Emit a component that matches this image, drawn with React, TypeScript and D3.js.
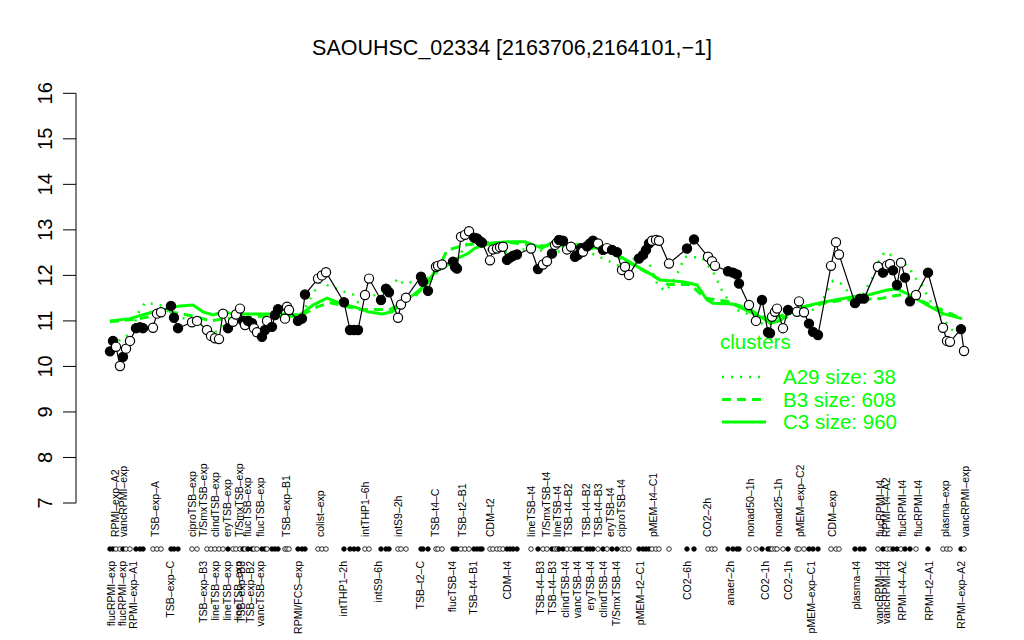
import React from "react";
import * as d3 from "d3";

// sample position along the x axis, expression value, filled (1) / open (0)
const samplePos = [110,113,116,120,123,126,130,136,140,143,153,157,161,171,174,178,192,197,207,211,215,219,223,228,233,236,240,243,245,248,252,254,257,262,265,267,272,275,278,285,287,289,298,302,305,318,322,326,
344,350,354,358,365,369,381,386,389,398,401,406,421,423,428,436,438,442,453,455,457,461,465,469,474,477,480,482,490,493,497,500,503,507,510,513,517,531,538,543,547,552,
555,557,559,563,567,571,575,578,581,583,587,590,593,598,603,607,612,617,622,625,629,639,643,646,649,652,656,659,669,687,694,708,712,715,728,733,737,739,749,756,762,768,770,772,775,777,783,788,797,799,804,809,813,818,831,836,839,855,860,864,878,883,887,890,893,897,901,905,910,916,928,943,947,950,961,964];
const sampleValue = [10.33,10.56,10.43,10.01,10.21,10.39,10.56,10.84,10.86,10.84,10.85,11.16,11.19,11.33,11.07,10.84,10.97,11.0,10.8,10.67,10.62,10.6,11.16,10.84,10.98,11.14,11.27,11.0,10.91,11.0,10.95,10.84,10.75,10.65,10.8,11.0,10.87,11.13,11.26,11.05,11.31,11.24,11.0,11.05,11.58,11.93,12.0,12.07,
11.41,10.8,10.8,10.8,11.57,11.93,11.46,11.71,11.63,11.07,11.36,11.51,11.97,11.86,11.66,12.19,12.21,12.24,12.30,12.19,12.15,12.85,12.89,12.97,12.83,12.81,12.75,12.72,12.33,12.57,12.59,12.62,12.63,12.34,12.39,12.43,12.46,12.59,12.14,12.24,12.31,12.48,
12.67,12.72,12.78,12.76,12.57,12.63,12.41,12.45,12.6,12.52,12.64,12.7,12.76,12.7,12.56,12.6,12.56,12.51,12.12,12.19,12.01,12.37,12.45,12.56,12.7,12.76,12.78,12.76,12.26,12.59,12.79,12.41,12.31,12.21,12.09,12.06,12.02,11.82,11.35,11.0,11.46,10.75,10.73,11.09,11.2,11.27,10.84,11.24,11.2,11.43,11.19,10.94,10.76,10.69,12.21,12.73,12.46,11.39,11.49,11.49,12.19,12.06,12.22,12.25,12.11,11.79,12.28,11.95,11.43,11.57,12.06,10.85,10.56,10.54,10.82,10.34];
const sampleFilled = [1,1,0,0,1,0,0,1,1,1,0,0,0,1,1,1,0,0,0,0,0,0,0,1,0,0,0,1,0,1,1,0,0,1,1,0,1,1,1,0,0,0,1,1,1,0,0,0,
1,1,1,1,0,0,1,1,1,0,0,0,1,1,1,0,0,0,1,1,1,0,0,0,1,1,1,1,0,0,0,0,0,1,1,1,1,0,1,0,0,1,
0,0,1,1,0,0,1,1,1,0,1,1,1,0,1,0,1,1,0,0,0,1,1,1,1,0,0,0,0,1,1,0,0,0,1,1,1,1,0,0,1,1,1,0,0,0,0,1,0,0,0,1,1,1,0,0,0,1,1,1,0,1,0,0,1,1,0,1,1,0,1,0,0,0,1,0];

// cluster profiles: [position, value]
const clusterA29: [number, number][] = [[110,10.5],[123,10.6],[131,10.75],[139,11.2],[145,11.4],[160,11.35],[175,11.1],[195,11.0],[215,10.75],[230,11.0],[250,10.95],[265,10.8],[280,11.15],[300,11.1],[320,11.85],[343,11.65],[353,11.58],[358,11.41],[375,11.57],[392,11.75],[398,11.94],[403,11.82],[425,11.9],[440,12.2],[455,12.3],[470,12.8],[490,12.55],[510,12.5],[530,12.6],[550,12.5],[580,12.6],[620,12.2],[645,12.5],[658,11.77],[666,11.65],[676,11.97],[685,12.41],[702,12.39],[714,12.04],[723,11.62],[735,11.26],[747,11.16],[765,10.9],[790,11.1],[818,11.28],[828,11.68],[833,11.88],[841,11.82],[858,11.4],[872,11.93],[880,12.37],[885,12.52],[894,12.41],[909,12.19],[914,11.97],[922,11.79],[927,11.57],[932,11.38],[950,10.85],[957,10.69]];
const clusterB3: [number, number][] = [[110,10.98],[140,11.05],[170,11.2],[195,11.1],[210,11.0],[225,11.05],[260,11.1],[300,11.1],[316,11.3],[330,11.4],[360,11.25],[390,11.25],[415,11.55],[435,12.0],[447,12.55],[462,12.65],[480,12.72],[510,12.72],[540,12.65],[580,12.65],[610,12.5],[640,12.15],[668,11.8],[690,11.8],[705,11.5],[727,11.43],[750,11.25],[770,11.0],[800,11.3],[840,11.45],[880,11.49],[902,11.58],[920,11.45],[962,11.05]];
const clusterC3: [number, number][] = [[110,11.0],[130,11.05],[150,11.18],[167,11.27],[180,11.33],[193,11.35],[203,11.2],[213,11.13],[223,11.2],[233,11.16],[260,11.15],[280,11.15],[300,11.13],[313,11.35],[327,11.5],[340,11.39],[358,11.28],[368,11.2],[382,11.15],[392,11.2],[402,11.39],[415,11.6],[425,11.78],[435,12.08],[445,12.19],[458,12.38],[468,12.48],[475,12.6],[492,12.71],[508,12.74],[525,12.74],[542,12.6],[550,12.7],[583,12.67],[610,12.52],[623,12.38],[640,12.16],[653,12.0],[660,11.9],[683,11.86],[697,11.79],[707,11.46],[713,11.39],[733,11.37],[750,11.2],[763,11.06],[770,10.95],[780,11.0],[787,11.13],[803,11.31],[820,11.4],[853,11.53],[870,11.58],[887,11.68],[897,11.7],[910,11.57],[927,11.35],[943,11.16],[962,11.05]];

const legendItems = [
  { name: "A29 size: 38", dash: "2,7" },
  { name: "B3 size: 608", dash: "9,6" },
  { name: "C3 size: 960", dash: "none" },
];

const yTicks = [7, 8, 9, 10, 11, 12, 13, 14, 15, 16];

const topLabels: [number, string][] = [[115,"RPMI–exp–A2"],[123,"vancRPMI–exp"],[155,"TSB–exp–A"],[192,"ciproTSB–exp"],[203,"T/SmxTSB–exp"],[215,"clindTSB–exp"],[227,"eryTSB–exp"],[239,"T/SmxTSB–exp"],[247,"flucTSB–exp"],[260,"flucTSB–exp"],[286,"TSB–exp–B1"],[320,"colist–exp"],[365,"intTHP1–6h"],[398,"intS9–2h"],[435,"TSB–t4–C"],[462,"TSB–t2–B1"],[490,"CDM–t2"],[531,"lineTSB–t4"],[546,"T/SmxTSB–t4"],[557,"lineTSB–t4"],[568,"TSB–t4–B2"],[586,"TSB–t4–B2"],[598,"TSB–t4–B3"],[610,"eryTSB–t4"],[621,"ciproTSB–t4"],[653,"pMEM–t4–C1"],[707,"CO2–2h"],[750,"nonad50–1h"],[778,"nonad25–1h"],[800,"pMEM–exp–C2"],[832,"CDM–exp"],[880,"flucRPMI–t4"],[886,"RPMI–t4–A2"],[902,"flucRPMI–t4"],[918,"flucRPMI–t4"],[945,"plasma–exp"],[965,"vancRPMI–exp"]];
const bottomLabels: [number, string][] = [[111,"flucRPMI–exp"],[122,"flucRPMI–exp"],[133,"RPMI–exp–A1"],[170,"TSB–exp–C"],[203,"TSB–exp–B3"],[215,"lineTSB–exp"],[227,"lineTSB–exp"],[238,"lineTSB–exp"],[241,"TSB–exp–B3"],[250,"TSB–exp–B2"],[260,"vancTSB–exp"],[298,"RPMI/FCS–exp"],[343,"intTHP1–2h"],[378,"intS9–6h"],[420,"TSB–t2–C"],[452,"flucTSB–t4"],[473,"TSB–t4–B1"],[507,"CDM–t4"],[540,"TSB–t4–B3"],[552,"TSB–t4–B3"],[565,"clindTSB–t4"],[577,"vancTSB–t4"],[590,"eryTSB–t4"],[603,"clindTSB–t4"],[616,"T/SmxTSB–t4"],[640,"pMEM–t2–C1"],[687,"CO2–6h"],[730,"anaer–2h"],[765,"CO2–1h"],[788,"CO2–1h"],[811,"pMEM–exp–C1"],[856,"plasma–t4"],[879,"vancRPMI–t4"],[886,"vancRPMI–t4"],[902,"RPMI–t4–A2"],[929,"RPMI–t2–A1"],[961,"RPMI–exp–A2"]];

const title = "SAOUHSC_02334 [2163706,2164101,−1]";
const GREEN = "#00ff00";
const FONT = "'Liberation Sans', Arial, Helvetica, sans-serif";

export default function App() {
  const W = 1024, H = 640;
  const x = d3.scaleLinear().domain([100, 975]).range([100, 975]);
  const y = d3.scaleLinear().domain([7, 16]).range([503, 93.3]);
  const axisX = 76;
  const rugY = 549;

  const line = d3.line<[number, number]>().x(d => x(d[0])).y(d => y(d[1]));
  const pts: [number, number][] = samplePos.map((p, i) => [p, sampleValue[i]]);

  return (
    <svg width={W} height={H} style={{ position: "absolute", left: 0, top: 0, background: "#fff" }} fontFamily={FONT}>
      <rect width={W} height={H} fill="#fff" />
      <text x={512} y={55} textAnchor="middle" fontSize={21.5}>{title}</text>

      {/* y axis */}
      <line x1={axisX} x2={axisX} y1={y(7)} y2={y(16)} stroke="#000" strokeWidth={1} />
      {yTicks.map(t => (
        <g key={t}>
          <line x1={axisX - 13} x2={axisX} y1={y(t)} y2={y(t)} stroke="#000" strokeWidth={1} />
          <text transform={`translate(${axisX - 24},${y(t)}) rotate(-90)`} textAnchor="middle" fontSize={20}>{t}</text>
        </g>
      ))}

      {/* cluster lines */}
      <path d={line(clusterC3) || ""} fill="none" stroke={GREEN} strokeWidth={3} />
      <path d={line(clusterB3) || ""} fill="none" stroke={GREEN} strokeWidth={3} strokeDasharray="9,6" />
      <path d={line(clusterA29) || ""} fill="none" stroke={GREEN} strokeWidth={2.5} strokeDasharray="2,7" />

      {/* data */}
      <path d={line(pts) || ""} fill="none" stroke="#000" strokeWidth={1.2} />
      {pts.map((p, i) => (
        <circle key={i} cx={x(p[0])} cy={y(p[1])} r={4.6}
          fill={sampleFilled[i] ? "#000" : "#fff"} stroke="#000" strokeWidth={1.2} />
      ))}

      {/* rug */}
      {samplePos.map((p, i) => (
        <circle key={"r" + i} cx={x(p)} cy={rugY} r={2.3}
          fill={sampleFilled[i] ? "#000" : "#fff"} stroke="#000" strokeWidth={0.8} />
      ))}

      {topLabels.map(([p, s], i) => (
        <text key={"t" + i} transform={`translate(${x(p) + 3.7},${rugY - 12}) rotate(-90)`} fontSize={10.5}>{s}</text>
      ))}
      {bottomLabels.map(([p, s], i) => (
        <text key={"b" + i} transform={`translate(${x(p) + 3.7},${rugY + 12}) rotate(-90)`} textAnchor="end" fontSize={10.5}>{s}</text>
      ))}

      {/* legend */}
      <text x={720} y={349} fill={GREEN} fontSize={20.5}>clusters</text>
      {legendItems.map((it, i) => (
        <g key={it.name}>
          <line x1={722} x2={766} y1={377 + i * 22.5} y2={377 + i * 22.5} stroke={GREEN}
            strokeWidth={it.dash === "2,7" ? 2.5 : 3} strokeDasharray={it.dash} />
          <text x={783} y={384 + i * 22.5} fill={GREEN} fontSize={20.5}>{it.name}</text>
        </g>
      ))}
    </svg>
  );
}
